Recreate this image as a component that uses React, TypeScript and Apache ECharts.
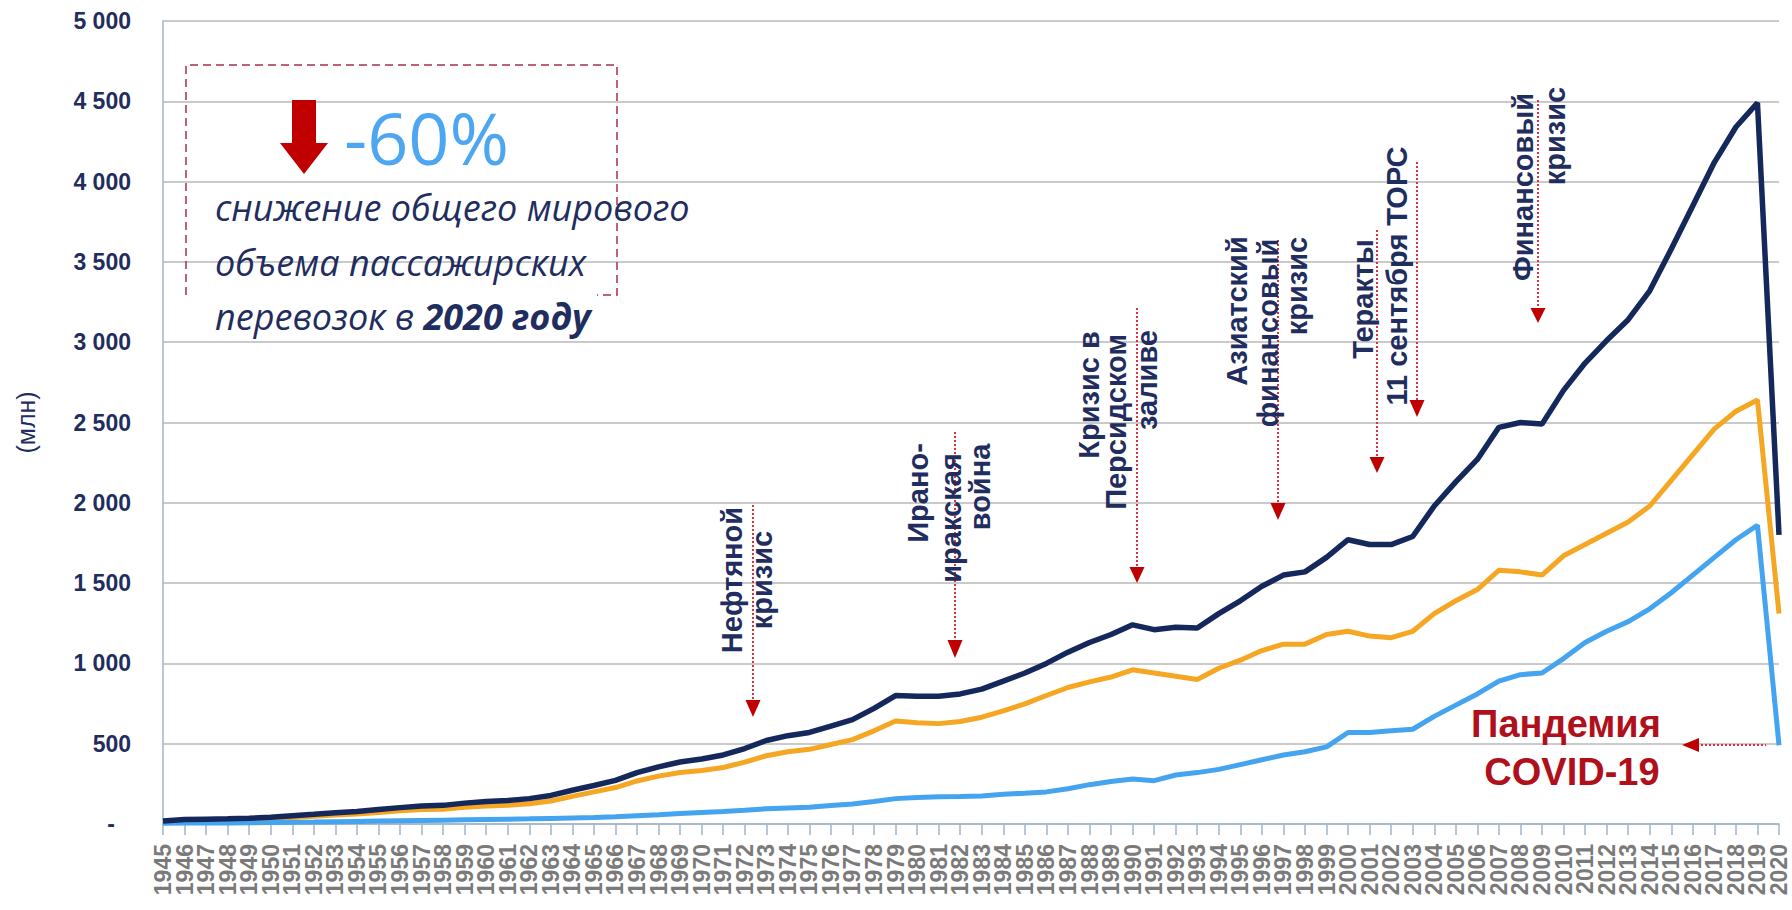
import React, { useEffect, useRef } from "react";
import * as echarts from "echarts";

const years = [
  "1945","1946","1947","1948","1949","1950","1951","1952","1953","1954",
  "1955","1956","1957","1958","1959","1960","1961","1962","1963","1964",
  "1965","1966","1967","1968","1969","1970","1971","1972","1973","1974",
  "1975","1976","1977","1978","1979","1980","1981","1982","1983","1984",
  "1985","1986","1987","1988","1989","1990","1991","1992","1993","1994",
  "1995","1996","1997","1998","1999","2000","2001","2002","2003","2004",
  "2005","2006","2007","2008","2009","2010","2011","2012","2013","2014",
  "2015","2016","2017","2018","2019","2020",
];

// total passengers (mln)
const totalPassengers = [
  18, 28, 30, 32, 36, 42, 52, 60, 70, 78,
  90, 102, 112, 116, 130, 140, 146, 158, 178, 210,
  240, 272, 320, 356, 386, 405, 430, 470, 520, 550,
  570, 610, 650, 720, 800, 795, 795, 810, 840, 890,
  940, 1000, 1070, 1130, 1180, 1240, 1210, 1225, 1220, 1310,
  1390, 1480, 1550, 1570, 1660, 1770, 1740, 1740, 1790, 1980,
  2130, 2270, 2470, 2500, 2490, 2700, 2870, 3010, 3140, 3320,
  3580, 3850, 4120, 4340, 4490, 1800,
];

const orangeSeries = [
  14, 22, 24, 25, 28, 33, 41, 48, 56, 62,
  72, 82, 90, 92, 104, 112, 116, 126, 143, 172,
  200, 227, 268, 298, 321, 333, 352, 385, 425, 450,
  465, 495, 525, 580, 642, 630, 625, 638, 665, 705,
  748, 800, 850, 885, 915, 960, 940, 920, 900, 970,
  1020, 1080, 1120, 1120, 1180, 1200, 1170, 1160, 1200, 1310,
  1390, 1460, 1580, 1570, 1550, 1670, 1740, 1810, 1880, 1980,
  2140, 2300, 2460, 2570, 2640, 1310,
];

const blueSeries = [
  4, 6, 6, 7, 8, 9, 11, 12, 14, 16,
  18, 20, 22, 24, 26, 28, 30, 32, 35, 38,
  40, 45, 52, 58, 65, 72, 78, 85, 95, 100,
  105, 115, 125, 140, 158, 165, 170, 172, 175, 185,
  192, 200, 220, 245, 265, 280, 270, 305, 320, 340,
  370, 400, 430, 450, 480, 570, 570, 580, 590, 670,
  740, 810, 890, 930, 940, 1030, 1130, 1200, 1260, 1340,
  1440, 1550, 1660, 1770, 1860, 490,
];

const NAVY = "#1F2D5F";
const RED = "#C00000";
const DOT_RED = "#E03040";
const FONT = "'Liberation Sans', Arial, sans-serif";

function fmtThousands(v: number): string {
  if (v === 0) return "{d|-}";
  return String(v).replace(/\B(?=(\d{3})+(?!\d))/g, " ");
}

function vText(text: string, x: number, y: number) {
  return {
    type: "text",
    x,
    y,
    rotation: Math.PI / 2,
    z: 10,
    style: {
      text,
      fill: NAVY,
      font: `bold 29px ${FONT}`,
      align: "center",
      verticalAlign: "middle",
    },
  };
}

function downArrow(x: number, y1: number, yHead: number, yTip: number) {
  return [
    {
      type: "line",
      z: 9,
      shape: { x1: x, y1, x2: x, y2: yHead },
      style: { stroke: DOT_RED, lineWidth: 2, lineDash: [2, 2] },
    },
    {
      type: "polygon",
      z: 9,
      shape: { points: [[x - 7.5, yHead], [x + 7.5, yHead], [x, yTip]] },
      style: { fill: RED },
    },
  ];
}

export default function App() {
  const ref = useRef<HTMLDivElement>(null);

  useEffect(() => {
    if (!ref.current) return;
    const chart = echarts.init(ref.current, undefined, { renderer: "svg" });

    const italic = (text: string, y: number) => ({
      type: "text",
      x: 215,
      y,
      z: 6,
      style: {
        text,
        fill: NAVY,
        font: `italic 36px 'Open Sans', sans-serif`,
        align: "left",
        verticalAlign: "middle",
      },
    });

    const graphic: any[] = [
      // dashed box
      {
        type: "polyline",
        z: 5,
        shape: {
          points: [[186, 295], [186, 65], [617, 65], [617, 295], [597, 295]],
        },
        style: { stroke: "#A8304A", lineWidth: 1.5, lineDash: [8, 5], fill: null },
      },
      // big red arrow
      {
        type: "polygon",
        z: 6,
        shape: {
          points: [
            [292, 100], [316, 100], [316, 143], [328, 143],
            [304, 174], [280, 143], [292, 143],
          ],
        },
        style: { fill: RED },
      },
      {
        type: "text",
        x: 344,
        y: 137,
        z: 6,
        style: {
          text: "-60%",
          fill: "#4DA6F2",
          font: `normal 72px 'Open Sans', sans-serif`,
          align: "left",
          verticalAlign: "middle",
        },
      },
      italic("снижение общего мирового", 207),
      italic("объема пассажирских", 262),
      {
        type: "text",
        x: 215,
        y: 316,
        z: 6,
        style: {
          text: "{n|перевозок в }{b|2020 году}",
          align: "left",
          verticalAlign: "middle",
          rich: {
            n: {
              fill: NAVY,
              fontFamily: "'Open Sans', sans-serif",
              fontStyle: "italic",
              fontSize: 36,
            },
            b: {
              fill: NAVY,
              fontFamily: "'Open Sans', sans-serif",
              fontStyle: "italic",
              fontWeight: "bold",
              fontSize: 36,
            },
          },
        },
      },
      // event annotations
      vText("Нефтяной", 732, 580),
      vText("кризис", 762, 580),
      ...downArrow(753, 505, 700, 717),

      vText("Ирано-", 918, 493),
      vText("иракская", 951, 518),
      vText("война", 980, 487),
      ...downArrow(955, 432, 640, 658),

      vText("Кризис в", 1089, 395),
      vText("Персидском", 1116, 422),
      vText("заливе", 1147, 380),
      ...downArrow(1137, 308, 567, 583),

      vText("Азиатский", 1237, 311),
      vText("финансовый", 1268, 333),
      vText("кризис", 1297, 286),
      ...downArrow(1278, 240, 503, 520),

      vText("Теракты", 1363, 299),
      vText("11 сентября ТОРС", 1397, 276),
      ...downArrow(1377, 230, 457, 473),
      ...downArrow(1417, 162, 400, 417),

      vText("Финансовый", 1523, 187),
      vText("кризис", 1555, 136),
      ...downArrow(1538, 100, 308, 323),

      // pandemic
      {
        type: "text",
        x: 1566,
        y: 724,
        z: 10,
        style: {
          text: "Пандемия",
          fill: "#B0101C",
          font: `bold 38px ${FONT}`,
          align: "center",
          verticalAlign: "middle",
        },
      },
      {
        type: "text",
        x: 1572,
        y: 772,
        z: 10,
        style: {
          text: "COVID-19",
          fill: "#B0101C",
          font: `bold 38px ${FONT}`,
          align: "center",
          verticalAlign: "middle",
        },
      },
      {
        type: "line",
        z: 9,
        shape: { x1: 1697, y1: 745, x2: 1766, y2: 745 },
        style: { stroke: DOT_RED, lineWidth: 2, lineDash: [2, 2] },
      },
      {
        type: "polygon",
        z: 9,
        shape: { points: [[1699, 738], [1699, 752], [1682, 745]] },
        style: { fill: RED },
      },
    ];

    const option: any = {
      animation: false,
      backgroundColor: "#ffffff",
      grid: { left: 163, right: 13, top: 21, bottom: 86, containLabel: false },
      xAxis: {
        type: "category",
        data: years,
        boundaryGap: false,
        axisLine: { show: true, lineStyle: { color: "#9FB4CC", width: 1.5 } },
        axisTick: { show: true, interval: 0, length: 11, lineStyle: { color: "#9FB4CC", width: 1.5 } },
        axisLabel: {
          interval: 0,
          rotate: 90,
          margin: 20,
          color: "#7A7A7A",
          fontWeight: "bold",
          fontSize: 23,
          fontFamily: FONT,
        },
        splitLine: { show: false },
      },
      yAxis: {
        type: "value",
        min: 0,
        max: 5000,
        interval: 500,
        name: "(млн)",
        nameLocation: "middle",
        nameRotate: 90,
        nameGap: 125,
        nameTextStyle: { color: NAVY, fontSize: 25, fontFamily: FONT },
        axisLine: { show: true, lineStyle: { color: "#9FB4CC", width: 1.5 } },
        axisTick: { show: false },
        axisLabel: {
          margin: 32,
          color: NAVY,
          fontWeight: "bold",
          fontSize: 23,
          fontFamily: FONT,
          formatter: fmtThousands,
          rich: { d: { color: NAVY, fontWeight: "bold", fontSize: 23, padding: [0, 16, 0, 0] } },
        },
        splitLine: { show: true, lineStyle: { color: "#B8B8B8", width: 1.5 } },
      },
      series: [
        {
          name: "orange",
          type: "line",
          data: orangeSeries,
          symbol: "none",
          lineStyle: { color: "#F5A623", width: 5 },
          z: 2,
        },
        {
          name: "blue",
          type: "line",
          data: blueSeries,
          symbol: "none",
          lineStyle: { color: "#44A4F0", width: 5 },
          z: 3,
        },
        {
          name: "total",
          type: "line",
          data: totalPassengers,
          symbol: "none",
          lineStyle: { color: "#14285C", width: 5.5 },
          z: 4,
        },
      ],
      graphic,
    };

    chart.setOption(option);
    return () => chart.dispose();
  }, []);

  return (
    <div
      ref={ref}
      style={{ position: "fixed", left: 0, top: 0, width: 1792, height: 910, background: "#fff" }}
    />
  );
}
